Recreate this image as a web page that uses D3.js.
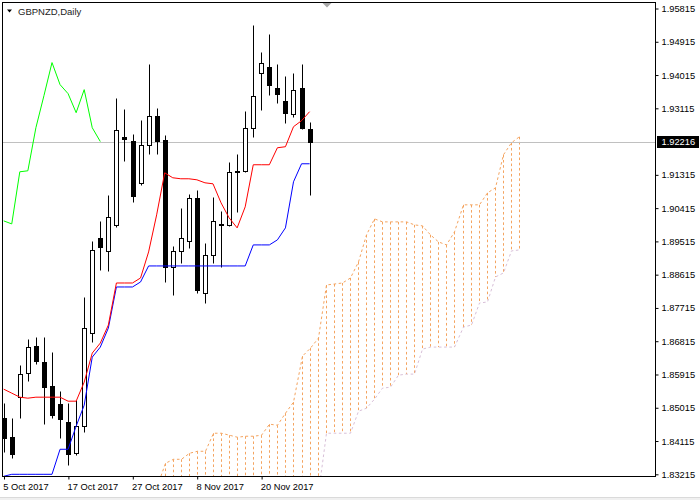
<!DOCTYPE html>
<html><head><meta charset="utf-8">
<script src="https://cdn.jsdelivr.net/npm/d3@7"></script>
<style>
body{margin:0;background:#fff;}
svg{display:block;font-family:'Liberation Sans',Arial,sans-serif;}
</style></head><body>
<svg id="c" width="700" height="500"></svg>
<script>
const symbol = "GBPNZD,Daily";
const dates = ["2017-10-05","2017-10-06","2017-10-09","2017-10-10","2017-10-11","2017-10-12","2017-10-13","2017-10-16","2017-10-17","2017-10-18","2017-10-19","2017-10-20","2017-10-23","2017-10-24","2017-10-25","2017-10-26","2017-10-27","2017-10-30","2017-10-31","2017-11-01","2017-11-02","2017-11-03","2017-11-06","2017-11-07","2017-11-08","2017-11-09","2017-11-10","2017-11-13","2017-11-14","2017-11-15","2017-11-16","2017-11-17","2017-11-20","2017-11-21","2017-11-22","2017-11-23","2017-11-24","2017-11-27","2017-11-28"];
const open  = [1.84731,1.84216,1.85300,1.85951,1.86682,1.86249,1.85598,1.85110,1.84623,1.83783,1.84514,1.87035,1.89609,1.89257,1.89961,1.92346,1.92238,1.91100,1.92129,1.92915,1.92265,1.88823,1.89257,1.89528,1.90693,1.88119,1.89148,1.89961,1.89961,1.91398,1.91425,1.92590,1.94081,1.94243,1.93674,1.93322,1.92969,1.93674,1.92563];
const high  = [1.85138,1.84731,1.86167,1.86872,1.86926,1.86926,1.86520,1.85463,1.85138,1.85219,1.88010,1.89528,1.90070,1.90774,1.93403,1.93105,1.92427,1.92807,1.94324,1.93132,1.92400,1.89392,1.90422,1.90801,1.90910,1.89474,1.90720,1.90341,1.91669,1.91885,1.93051,1.95381,1.94650,1.95137,1.94324,1.93999,1.94081,1.94324,1.92753];
const low   = [1.83810,1.83647,1.84731,1.85734,1.86194,1.84568,1.84731,1.84189,1.83457,1.83728,1.84352,1.86791,1.88742,1.88715,1.89907,1.91696,1.90585,1.91045,1.91885,1.91885,1.88417,1.88064,1.88932,1.89338,1.88119,1.87848,1.88932,1.88823,1.89934,1.90314,1.91398,1.92346,1.93078,1.93484,1.93268,1.92726,1.92888,1.92560,1.90774];
const close = [1.84189,1.83755,1.85923,1.86655,1.86276,1.85571,1.84812,1.84704,1.83755,1.84514,1.87170,1.89284,1.89365,1.90178,1.92536,1.92292,1.90747,1.92129,1.92915,1.92238,1.88823,1.89257,1.89609,1.90693,1.88200,1.89148,1.90070,1.89988,1.91398,1.91425,1.92590,1.93457,1.94352,1.93755,1.93511,1.92997,1.93620,1.92590,1.92216];
const tenkan = [1.85518,1.85410,1.85301,1.85274,1.85301,1.85301,1.85301,1.85301,1.85193,1.85193,1.85708,1.86494,1.86765,1.87252,1.88390,1.88390,1.88390,1.88526,1.89230,1.90233,1.91371,1.91236,1.91209,1.91209,1.91181,1.91100,1.91073,1.90558,1.90152,1.89881,1.90450,1.91588,1.91588,1.91588,1.92048,1.92076,1.92618,1.92780,1.93024];
const kijun = [1.83161,1.83215,1.83215,1.83215,1.83215,1.83215,1.83215,1.83892,1.83892,1.84516,1.85085,1.86385,1.86656,1.87171,1.88282,1.88282,1.88282,1.88418,1.88851,1.88851,1.88851,1.88851,1.88851,1.88851,1.88851,1.88851,1.88851,1.88851,1.88851,1.88851,1.88851,1.89420,1.89420,1.89420,1.89556,1.89881,1.91127,1.91615,1.91615];
const chikouShift = 26;
const cloudStart = 19;
const spanA = [1.82900,1.83513,1.83621,1.83621,1.83784,1.83838,1.83838,1.84326,1.84326,1.84272,1.84217,1.84245,1.84245,1.84272,1.84570,1.84543,1.84868,1.85166,1.86412,1.86629,1.86900,1.88336,1.88363,1.88390,1.88526,1.88959,1.89691,1.90125,1.90043,1.90043,1.90043,1.90043,1.89962,1.89935,1.89691,1.89501,1.89420,1.89772,1.90504,1.90504,1.90504,1.90829,1.90965,1.91859,1.92184,1.92347];
const spanB = [1.82700,1.82700,1.82700,1.82700,1.82700,1.82700,1.82700,1.82700,1.82700,1.82700,1.82700,1.82700,1.82700,1.82700,1.82700,1.82700,1.82700,1.82700,1.82700,1.82700,1.82700,1.84326,1.84326,1.84326,1.84326,1.84922,1.85003,1.85247,1.85545,1.85572,1.85897,1.85925,1.85925,1.86602,1.86656,1.86656,1.86656,1.86656,1.87198,1.87252,1.87848,1.87876,1.88553,1.88661,1.89258,1.89285];
const priceTicks = [1.95815,1.94915,1.94015,1.93115,1.91315,1.90415,1.89515,1.88615,1.87715,1.86815,1.85915,1.85015,1.84115,1.83215];
const dateTickIdx = [0,8,16,24,32];
const lastPrice = 1.92216;

const svg = d3.select("#c");
const L = 2.5, T = 2.5, R = 655.5, B = 476.5;
const x = d3.scaleLinear().domain([0, 64]).range([3.7, 518.9]);
const y = d3.scaleLinear().domain([1.83215, 1.95815]).range([474.3, 8.5]);
const px = v => Math.round(v) + 0.5;

svg.append("defs").append("clipPath").attr("id","clip")
  .append("rect").attr("x", L+0.5).attr("y", T+0.5).attr("width", R-L-1).attr("height", B-T-1);

const g = svg.append("g").attr("clip-path","url(#clip)");

// Kumo histogram
const cloud = spanA.map((a,k)=>({j: cloudStart+k, a, b: spanB[k]}));
g.append("g").selectAll("line").data(cloud).join("line")
  .attr("x1", d=>px(x(d.j))).attr("x2", d=>px(x(d.j)))
  .attr("y1", d=>y(d.a)).attr("y2", d=>y(d.b))
  .attr("stroke","#F4A460").attr("stroke-width",1).attr("stroke-dasharray","2.6,2.6");
g.append("path").datum(cloud)
  .attr("d", d3.line().x(d=>px(x(d.j))).y(d=>y(d.a)))
  .attr("fill","none").attr("stroke","#F4A460").attr("stroke-width",1).attr("stroke-dasharray","2.6,2.6");
g.append("path").datum(cloud)
  .attr("d", d3.line().x(d=>px(x(d.j))).y(d=>y(d.b)))
  .attr("fill","none").attr("stroke","#D8BFD8").attr("stroke-width",1).attr("stroke-dasharray","2.6,2.6");

// bid line
g.append("line").attr("x1",L).attr("x2",R).attr("y1",px(y(lastPrice))).attr("y2",px(y(lastPrice)))
  .attr("stroke","#C0C0C0").attr("stroke-width",1);

// candles
const bars = open.map((o,i)=>({i,o,h:high[i],l:low[i],c:close[i]}));
const cg = g.append("g");
cg.selectAll("line").data(bars).join("line")
  .attr("x1", d=>px(x(d.i))).attr("x2", d=>px(x(d.i)))
  .attr("y1", d=>px(y(d.h))).attr("y2", d=>px(y(d.l)))
  .attr("stroke","#000").attr("stroke-width",1);
cg.selectAll("rect").data(bars).join("rect")
  .attr("x", d=>px(x(d.i))-2).attr("width",4)
  .attr("y", d=>px(y(Math.max(d.o,d.c))))
  .attr("height", d=>Math.max(0, px(y(Math.min(d.o,d.c))) - px(y(Math.max(d.o,d.c)))))
  .attr("fill", d=>d.c < d.o ? "#000" : "#fff")
  .attr("stroke","#000").attr("stroke-width",1);

// Ichimoku lines
const line = d3.line().x((d,i)=>x(i)).y(d=>y(d));
g.append("path").datum(kijun).attr("d", line).attr("fill","none").attr("stroke","#0000FF").attr("stroke-width",1);
g.append("path").datum(tenkan).attr("d", line).attr("fill","none").attr("stroke","#FF0000").attr("stroke-width",1);
const chikou = close.slice(chikouShift);
g.append("path").datum(chikou).attr("d", line).attr("fill","none").attr("stroke","#00FF00").attr("stroke-width",1);

// frame
svg.append("rect").attr("x",L).attr("y",T).attr("width",R-L).attr("height",B-T)
  .attr("fill","none").attr("stroke","#000").attr("stroke-width",1);

// price axis
const ya = svg.append("g").attr("transform",`translate(${R},0)`)
  .call(d3.axisRight(y).tickValues(priceTicks).tickFormat(d3.format(".5f")).tickSize(3).tickPadding(3));
ya.select(".domain").remove();
ya.selectAll("line").attr("stroke","#000");
ya.selectAll("text").attr("font-size","9.3px").attr("fill","#000");

// last price label
const ly = y(lastPrice);
svg.append("rect").attr("x",657).attr("y",Math.round(ly)-6).attr("width",42).attr("height",12).attr("fill","#000");
svg.append("text").attr("x",661.5).attr("y",ly).attr("dy","0.35em").attr("font-size","9.3px").attr("fill","#fff").text(d3.format(".5f")(lastPrice));

// date axis
const fmt = d3.timeFormat("%-d %b %Y"), parse = d3.timeParse("%Y-%m-%d");
const xa = svg.append("g").attr("transform",`translate(0,${B})`)
  .call(d3.axisBottom(x).tickValues(dateTickIdx).tickFormat(i=>fmt(parse(dates[i]))).tickSize(3).tickPadding(3.5));
xa.select(".domain").remove();
xa.selectAll(".tick line").attr("stroke","#000").attr("transform","translate(0.3,0)");
xa.selectAll("text").attr("text-anchor","start").attr("font-size","9.3px").attr("fill","#000").attr("dx","-1");

// title
svg.append("path").attr("d","M7,9.5 L12,9.5 L9.5,12.5 Z").attr("fill","#000");
svg.append("text").attr("x",18).attr("y",14.5).attr("font-size","9.5px").attr("fill","#222").text(symbol);
// shift marker
svg.append("path").attr("d","M322.5,3 L331.5,3 L327,7.5 Z").attr("fill","#A8A8A8");
// bottom window edge
svg.append("rect").attr("x",0).attr("y",497).attr("width",700).attr("height",3).attr("fill","#F0F0F0");
svg.append("line").attr("x1",0).attr("x2",700).attr("y1",497.5).attr("y2",497.5).attr("stroke","#DADADA");
</script>
</body></html>
